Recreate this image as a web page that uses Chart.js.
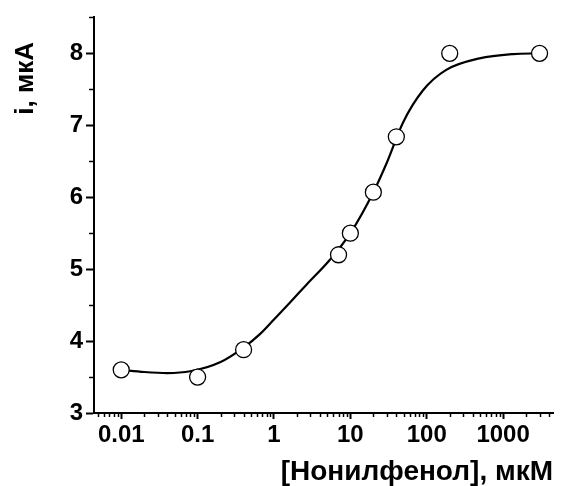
<!DOCTYPE html>
<html>
<head>
<meta charset="utf-8">
<script src="https://cdn.jsdelivr.net/npm/chart.js@4.4.1/dist/chart.umd.min.js"></script>
<style>
  html, body { margin: 0; padding: 0; background: #fff; }
  #wrap { width: 563px; height: 486px; position: relative; }
</style>
</head>
<body>
<div id="wrap"><canvas id="mycanvas"></canvas></div>
<script>
// measured points
var concentration = [0.01, 0.1, 0.4, 7, 10, 20, 40, 200, 3000];
var current = [3.6, 3.5, 3.88, 5.2, 5.5, 6.07, 6.84, 8.0, 8.0];

// fitted curve
var fitX = [0.01, 0.02, 0.04, 0.08, 0.2, 0.4, 0.66, 1, 1.6, 2.7, 5.4, 10, 20, 30, 49, 90, 180, 490, 1350, 3000];
var fitY = [3.6, 3.57, 3.555, 3.58, 3.71, 3.91, 4.1, 4.3, 4.53, 4.79, 5.13, 5.5, 6.07, 6.48, 7.04, 7.49, 7.77, 7.93, 7.99, 8.0];

// axes
var xMajor = [0.01, 0.1, 1, 10, 100, 1000];
var xLabels = ['0.01', '0.1', '1', '10', '100', '1000'];
var yMajor = [3, 4, 5, 6, 7, 8];
var yLabels = ['3', '4', '5', '6', '7', '8'];
var xMin = 0.0044, xMax = 4500;
var yMin = 3, yMax = 8.5;

var FONT = '"Liberation Sans", Arial, sans-serif';

function xTicks() {
  var t = [];
  for (var e = -3; e <= 3; e++) {
    for (var m = 1; m <= 9; m++) {
      var v = parseFloat((m * Math.pow(10, e)).toPrecision(6));
      if (v >= xMin && v <= xMax) t.push({ value: v, major: m === 1 });
    }
  }
  return t;
}
function yTicks() {
  var t = [];
  for (var v = yMin; v <= yMax + 1e-9; v += 0.5) {
    t.push({ value: v, major: yMajor.indexOf(v) >= 0 });
  }
  return t;
}

// short minor ticks + y title
var extras = {
  id: 'extras',
  afterDraw: function(chart) {
    var c = chart.ctx, xs = chart.scales.x, ys = chart.scales.y;
    var a = chart.chartArea;
    c.save();
    c.strokeStyle = '#000';
    c.lineWidth = 1.5;
    xs.ticks.forEach(function(t) {
      if (t.major) return;
      var px = Math.round(xs.getPixelForValue(t.value)) + 0.5;
      c.beginPath(); c.moveTo(px, a.bottom); c.lineTo(px, a.bottom + 4); c.stroke();
    });
    ys.ticks.forEach(function(t) {
      if (t.major) return;
      var py = Math.round(ys.getPixelForValue(t.value)) + 0.5;
      c.beginPath(); c.moveTo(a.left, py); c.lineTo(a.left - 5, py); c.stroke();
    });
    c.translate(33, 42);
    c.rotate(-Math.PI / 2);
    c.fillStyle = '#000';
    c.font = 'bold 26px ' + FONT;
    c.textAlign = 'right';
    c.textBaseline = 'alphabetic';
    c.fillText('i, мкА', 0, 0);
    c.restore();
  }
};

var pts = concentration.map(function(x, i) { return { x: x, y: current[i] }; });
var fit = fitX.map(function(x, i) { return { x: x, y: fitY[i] }; });

var ctx = document.getElementById('mycanvas');
var chart = new Chart(ctx, {
  type: 'scatter',
  data: {
    datasets: [
      {
        label: 'points',
        data: pts,
        order: 0,
        pointStyle: 'circle',
        pointRadius: 8,
        pointBorderWidth: 1.3,
        pointBorderColor: '#000',
        pointBackgroundColor: '#fff',
        showLine: false
      },
      {
        label: 'fit',
        data: fit,
        order: 1,
        showLine: true,
        borderColor: '#000',
        borderWidth: 2.2,
        pointRadius: 0,
        cubicInterpolationMode: 'monotone'
      }
    ]
  },
  plugins: [extras],
  options: {
    responsive: true,
    maintainAspectRatio: false,
    animation: false,
    events: [],
    layout: { padding: { top: 13, right: 10, left: 0, bottom: 0 } },
    plugins: { legend: { display: false }, tooltip: { enabled: false } },
    scales: {
      x: {
        type: 'logarithmic',
        min: xMin,
        max: xMax,
        bounds: 'data',
        afterBuildTicks: function(s) { s.ticks = xTicks(); },
        afterFit: function(s) { s.height = 73; },
        border: { display: true, color: '#000', width: 2 },
        grid: {
          drawOnChartArea: false,
          tickLength: 6,
          tickWidth: 2,
          tickColor: function(c) { return c.tick && c.tick.major ? '#000' : 'rgba(0,0,0,0)'; }
        },
        ticks: {
          autoSkip: false,
          maxRotation: 0,
          padding: 2,
          color: '#000',
          font: { family: FONT, size: 24, weight: 'bold' },
          callback: function(v) {
            var i = xMajor.indexOf(v);
            return i >= 0 ? xLabels[i] : '';
          }
        },
        title: {
          display: true,
          text: '[Нонилфенол], мкМ',
          align: 'end',
          color: '#000',
          padding: { top: 0, bottom: 0 },
          font: { family: FONT, size: 28, weight: 'bold', lineHeight: 1 }
        }
      },
      y: {
        min: yMin,
        max: yMax,
        afterBuildTicks: function(s) { s.ticks = yTicks(); },
        afterFit: function(s) { s.width = 94; },
        border: { display: true, color: '#000', width: 2 },
        grid: {
          drawOnChartArea: false,
          tickLength: 8,
          tickWidth: 2,
          tickColor: function(c) { return c.tick && c.tick.major ? '#000' : 'rgba(0,0,0,0)'; }
        },
        ticks: {
          autoSkip: false,
          padding: 3,
          color: '#000',
          font: { family: FONT, size: 24, weight: 'bold' },
          callback: function(v) {
            var i = yMajor.indexOf(v);
            return i >= 0 ? yLabels[i] : '';
          }
        }
      }
    }
  }
});
</script>
</body>
</html>
